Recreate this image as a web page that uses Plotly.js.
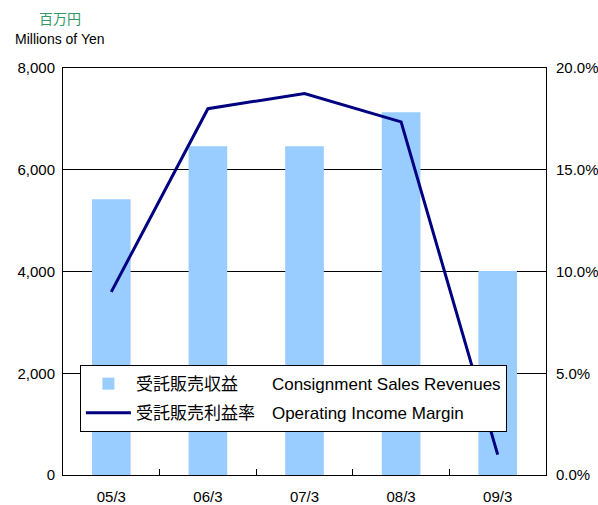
<!DOCTYPE html>
<html>
<head>
<meta charset="utf-8">
<script src="https://cdn.plot.ly/plotly-3.0.1.min.js"></script>
<style>
  html, body { margin: 0; padding: 0; background: #fff; }
  #chart { width: 598px; height: 505px; }
</style>
</head>
<body>
<div id="chart"></div>
<script>
const periods = ["05/3", "06/3", "07/3", "08/3", "09/3"];
const revenues = [5420, 6460, 6460, 7130, 4010];
const marginPct = [9.0, 18.0, 18.75, 17.35, 1.0];

const FONT = "'Liberation Sans', Arial, 'Noto Sans CJK JP', sans-serif";

const traces = [
  {
    x: periods,
    y: revenues,
    type: "bar",
    name: "受託販売収益　　Consignment Sales Revenues",
    legendgroup: "rev",
    marker: { color: "#99ccff" },
    width: 0.4,
    yaxis: "y",
  },
  {
    x: periods,
    y: marginPct,
    type: "scatter",
    mode: "lines",
    name: "受託販売利益率　Operating Income Margin",
    legendgroup: "margin",
    line: { color: "#000080", width: 3 },
    yaxis: "y2",
  },
];

const layout = {
  width: 598,
  height: 505,
  font: { family: FONT, size: 15, color: "#000" },
  paper_bgcolor: "#fff",
  plot_bgcolor: "#fff",
  margin: { t: 68, r: 52, b: 30, l: 63 },
  showlegend: true,
  legend: {
    x: 0.035,
    y: 0.27,
    xanchor: "left",
    yanchor: "top",
    bgcolor: "#fff",
    bordercolor: "#000",
    borderwidth: 1,
    itemwidth: 45,
    traceorder: "grouped",
    tracegroupgap: 4,
    font: { family: FONT, size: 17 },
  },
  xaxis: {
    type: "category",
    showline: true,
    linecolor: "#000",
    linewidth: 1,
    mirror: true,
    ticks: "inside",
    tickson: "boundaries",
    ticklen: 6,
    tickwidth: 1,
    tickcolor: "#000",
    ticklabelstandoff: 8,
    showgrid: false,
    tickfont: { size: 15 },
  },
  yaxis: {
    range: [0, 8000],
    dtick: 2000,
    tickformat: ",d",
    showline: true,
    linecolor: "#000",
    gridcolor: "#000",
    gridwidth: 1,
    zeroline: false,
    ticklabelstandoff: 4,
    tickfont: { size: 15 },
  },
  yaxis2: {
    overlaying: "y",
    side: "right",
    range: [0, 20],
    dtick: 5,
    ticksuffix: "%",
    tickformat: ".1f",
    showgrid: false,
    zeroline: false,
    showline: true,
    linecolor: "#000",
    ticklabelstandoff: 6,
    tickfont: { size: 15 },
  },
  annotations: [
    {
      text: "百万円",
      xref: "paper", yref: "paper",
      x: -0.054, y: 1.123,
      xanchor: "left", yanchor: "middle",
      showarrow: false,
      font: { family: "'Noto Sans CJK JP', sans-serif", size: 14, color: "#339966" },
    },
    {
      text: "Millions of Yen",
      xref: "paper", yref: "paper",
      x: -0.1035, y: 1.071,
      xanchor: "left", yanchor: "middle",
      showarrow: false,
      font: { family: FONT, size: 14, color: "#000" },
    },
  ],
};

Plotly.newPlot("chart", traces, layout, { displayModeBar: false });
</script>
</body>
</html>
